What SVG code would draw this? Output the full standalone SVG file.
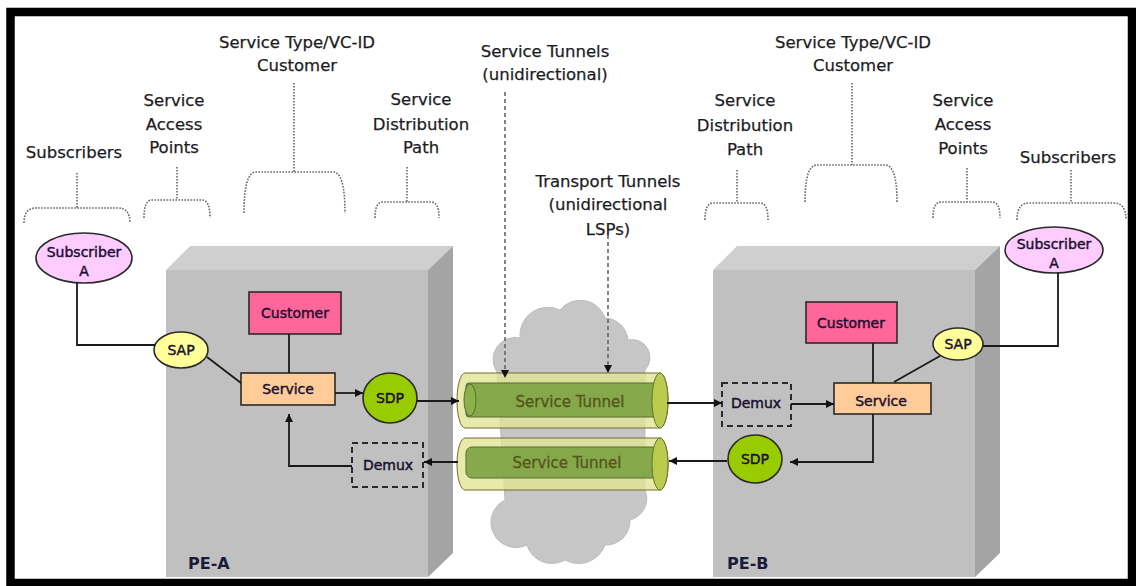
<svg xmlns="http://www.w3.org/2000/svg" width="1136" height="586" viewBox="0 0 1136 586">
  <defs>
    <style>
      .lbl { font-family: 'DejaVu Sans', Verdana, sans-serif; font-size: 16.5px; fill: #1c1c24; stroke: #1c1c24; stroke-width: 0.25; text-anchor: middle; }
      .nt { font-family: 'DejaVu Sans', Verdana, sans-serif; font-size: 14px; fill: #1a1030; stroke: #1a1030; stroke-width: 0.45; text-anchor: middle; }
      .pe { font-family: 'DejaVu Sans', Verdana, sans-serif; font-size: 16px; font-weight: bold; fill: #1c1c3a; }
      .tt { font-family: 'DejaVu Sans', Verdana, sans-serif; font-size: 15px; fill: #55551a; stroke: #55551a; stroke-width: 0.3; text-anchor: middle; }
      .brace { fill: none; stroke: #666; stroke-width: 1.6; stroke-dasharray: 1.6 1.4; }
      .guide { fill: none; stroke: #666; stroke-width: 1.6; stroke-dasharray: 4 3; }
      .conn { fill: none; stroke: #1a1a1a; stroke-width: 1.8; }
      .front { fill: #c0c0c0; }
      .top { fill: #cfcfcf; }
      .side { fill: #a4a4a4; }
      .node { stroke: #2a2a2a; stroke-width: 1.6; }
      .demux { fill: none; stroke: #2a2a2a; stroke-width: 2; stroke-dasharray: 6 4; }
      .tube { fill: #e0e492; fill-opacity: 0.78; stroke: #6e6e30; stroke-width: 1; }
      .core { fill: #7ea344; fill-opacity: 0.92; stroke: #56702c; stroke-width: 1; }
      .cap { fill: #b9cc4e; stroke: #6e6e30; stroke-width: 1; }
    </style>
    <marker id="arr" viewBox="0 0 10 10" refX="10" refY="5" markerWidth="8" markerHeight="8" markerUnits="userSpaceOnUse" orient="auto">
      <path d="M0,0 L10,5 L0,10 Z" fill="#111"/>
    </marker>
  </defs>

  <!-- page background and frame -->
  <rect x="0" y="0" width="1136" height="586" fill="#ffffff"/>
  <rect x="10.5" y="12" width="1121.5" height="571" fill="#ffffff" stroke="#000" stroke-width="8.5"/>

  <!-- provider edge chassis A -->
  <g id="pe-a">
    <polygon class="front" points="166,270 428,270 428,577 166,577"/>
    <polygon class="top" points="166,270 190,246 453,246 428,270"/>
    <polygon class="side" points="428,270 453,246 453,553 428,577"/>
    <text class="pe" x="188" y="569">PE-A</text>
  </g>

  <!-- provider edge chassis B -->
  <g id="pe-b">
    <polygon class="front" points="713,270 975,270 975,577 713,577"/>
    <polygon class="top" points="713,270 737,246 1000,246 975,270"/>
    <polygon class="side" points="975,270 1000,246 1000,553 975,577"/>
    <text class="pe" x="727" y="569">PE-B</text>
  </g>

  <!-- transport network cloud -->
  <g id="cloud">
    <path d="M 497 372 A 22 22 0 0 1 520 338 A 28 28 0 0 1 560 310 A 26 26 0 0 1 605 318 A 24 24 0 0 1 628 340 A 18 18 0 0 1 645 370 L 645 490 A 22 22 0 0 1 630 520 A 24 24 0 0 1 605 545 A 28 28 0 0 1 565 560 A 26 26 0 0 1 527 545 A 22 22 0 0 1 505 500 Z" fill="#c6c6c6" stroke="#bdbdbd" stroke-width="1"/>
  </g>

  <!-- service tunnel A to B -->
  <g id="tunnel-ab">
    <path class="tube" d="M 465 373 H 660 A 8 27.5 0 0 1 660 428 H 465 A 8 27.5 0 0 1 465 373 Z"/>
    <rect class="core" x="466" y="383" width="192" height="34" rx="3"/>
    <ellipse cx="470" cy="400" rx="6" ry="16" fill="#8db04c" stroke="#56702c" stroke-width="1"/>
    <ellipse class="cap" cx="660" cy="400.5" rx="8" ry="27.5"/>
    <text class="tt" x="570" y="407">Service Tunnel</text>
  </g>

  <!-- service tunnel B to A -->
  <g id="tunnel-ba">
    <path class="tube" d="M 465 438 H 660 A 8 26 0 0 1 660 490 H 465 A 8 26 0 0 1 465 438 Z"/>
    <rect class="core" x="466" y="447" width="192" height="31" rx="6"/>
    <ellipse class="cap" cx="660" cy="464" rx="8" ry="26"/>
    <text class="tt" x="567" y="468">Service Tunnel</text>
  </g>

  <!-- nodes inside PE-A -->
  <g id="sub-a-left">
    <ellipse class="node" cx="84" cy="258" rx="48" ry="25" fill="#ffccff"/>
    <text class="nt" x="84" y="257">Subscriber</text>
    <text class="nt" x="84" y="276">A</text>
  </g>
  <g id="sap-a">
    <ellipse class="node" cx="181" cy="350" rx="27" ry="18" fill="#ffff99"/>
    <text class="nt" x="181" y="355">SAP</text>
  </g>
  <g id="customer-a">
    <rect class="node" x="249" y="292" width="92" height="42" fill="#ff6699"/>
    <text class="nt" x="295" y="318">Customer</text>
  </g>
  <g id="service-a">
    <rect class="node" x="241" y="373" width="94" height="32" fill="#ffcc99"/>
    <text class="nt" x="288" y="394">Service</text>
  </g>
  <g id="sdp-a">
    <ellipse class="node" cx="390" cy="398" rx="27" ry="25" fill="#99cc00"/>
    <text class="nt" x="390" y="403">SDP</text>
  </g>
  <g id="demux-a">
    <rect class="demux" x="352" y="443" width="71" height="44"/>
    <text class="nt" x="388" y="470">Demux</text>
  </g>

  <!-- nodes inside PE-B -->
  <g id="sub-a-right">
    <ellipse class="node" cx="1054" cy="250" rx="49" ry="23" fill="#ffccff"/>
    <text class="nt" x="1054" y="249">Subscriber</text>
    <text class="nt" x="1054" y="268">A</text>
  </g>
  <g id="sap-b">
    <ellipse class="node" cx="958" cy="344" rx="25" ry="16" fill="#ffff99"/>
    <text class="nt" x="958" y="349">SAP</text>
  </g>
  <g id="customer-b">
    <rect class="node" x="806" y="302" width="91" height="41" fill="#ff6699"/>
    <text class="nt" x="851" y="328">Customer</text>
  </g>
  <g id="service-b">
    <rect class="node" x="834" y="383" width="97" height="31" fill="#ffcc99"/>
    <text class="nt" x="881" y="406">Service</text>
  </g>
  <g id="sdp-b">
    <ellipse class="node" cx="755" cy="459" rx="27" ry="24" fill="#99cc00"/>
    <text class="nt" x="755" y="464">SDP</text>
  </g>
  <g id="demux-b">
    <rect class="demux" x="722" y="383" width="69" height="43"/>
    <text class="nt" x="756" y="408">Demux</text>
  </g>

  <!-- connectors -->
  <g id="connectors">
    <polyline class="conn" points="77,283 77,345 155,345"/>
    <line class="conn" x1="207" y1="357" x2="241" y2="383"/>
    <line class="conn" x1="289" y1="334" x2="289" y2="373"/>
    <line class="conn" x1="335" y1="393" x2="363" y2="393" marker-end="url(#arr)"/>
    <line class="conn" x1="417" y1="401" x2="459" y2="401" marker-end="url(#arr)"/>
    <line class="conn" x1="458" y1="462" x2="424" y2="462" marker-end="url(#arr)"/>
    <polyline class="conn" points="352,466 289,466 289,414" marker-end="url(#arr)"/>

    <line class="conn" x1="667" y1="403" x2="722" y2="403" marker-end="url(#arr)"/>
    <line class="conn" x1="727" y1="461" x2="669" y2="461" marker-end="url(#arr)"/>
    <line class="conn" x1="791" y1="404" x2="834" y2="404" marker-end="url(#arr)"/>
    <polyline class="conn" points="873,414 873,462 790,462" marker-end="url(#arr)"/>
    <line class="conn" x1="873" y1="343" x2="873" y2="383"/>
    <line class="conn" x1="940" y1="356" x2="894" y2="382"/>
    <polyline class="conn" points="983,346 1058,346 1058,273"/>

    <!-- pointers from the tunnel captions -->
    <line class="guide" x1="505" y1="92" x2="505" y2="378" marker-end="url(#arr)"/>
    <line class="guide" x1="608" y1="235" x2="608" y2="373" marker-end="url(#arr)"/>
  </g>

  <!-- annotation braces -->
  <g id="braces">
    <path class="brace" d="M77,173 V208 M24,223 Q24,208 36,208 H118 Q130,208 130,223"/>
    <path class="brace" d="M177,167 V200 M144,218 Q144,200 152,200 H202 Q210,200 210,218"/>
    <path class="brace" d="M294,83 V172 M244,213 Q244,172 256,172 H333 Q345,172 345,213"/>
    <path class="brace" d="M407,167 V202 M375,218 Q375,202 383,202 H431 Q439,202 439,218"/>

    <path class="brace" d="M737,170 V203 M705,220 Q705,203 713,203 H760 Q768,203 768,220"/>
    <path class="brace" d="M852,83 V165 M805,202 Q805,165 817,165 H885 Q897,165 897,202"/>
    <path class="brace" d="M967,168 V202 M933,218 Q933,202 941,202 H992 Q1000,202 1000,218"/>
    <path class="brace" d="M1071,170 V203 M1017,220 Q1017,203 1029,203 H1114 Q1126,203 1126,220"/>
  </g>

  <!-- captions -->
  <g id="captions">
    <text class="lbl" x="74" y="158">Subscribers</text>
    <text class="lbl"><tspan x="174" y="106">Service</tspan><tspan x="174" y="130">Access</tspan><tspan x="174" y="153">Points</tspan></text>
    <text class="lbl"><tspan x="297" y="48">Service Type/VC-ID</tspan><tspan x="297" y="71">Customer</tspan></text>
    <text class="lbl"><tspan x="421" y="105">Service</tspan><tspan x="421" y="130">Distribution</tspan><tspan x="421" y="153">Path</tspan></text>
    <text class="lbl"><tspan x="545" y="57">Service Tunnels</tspan><tspan x="545" y="80">(unidirectional)</tspan></text>
    <text class="lbl"><tspan x="608" y="187">Transport Tunnels</tspan><tspan x="608" y="210">(unidirectional</tspan><tspan x="608" y="235">LSPs)</tspan></text>
    <text class="lbl"><tspan x="745" y="106">Service</tspan><tspan x="745" y="131">Distribution</tspan><tspan x="745" y="155">Path</tspan></text>
    <text class="lbl"><tspan x="853" y="48">Service Type/VC-ID</tspan><tspan x="853" y="71">Customer</tspan></text>
    <text class="lbl"><tspan x="963" y="106">Service</tspan><tspan x="963" y="130">Access</tspan><tspan x="963" y="154">Points</tspan></text>
    <text class="lbl" x="1068" y="163">Subscribers</text>
  </g>
</svg>
